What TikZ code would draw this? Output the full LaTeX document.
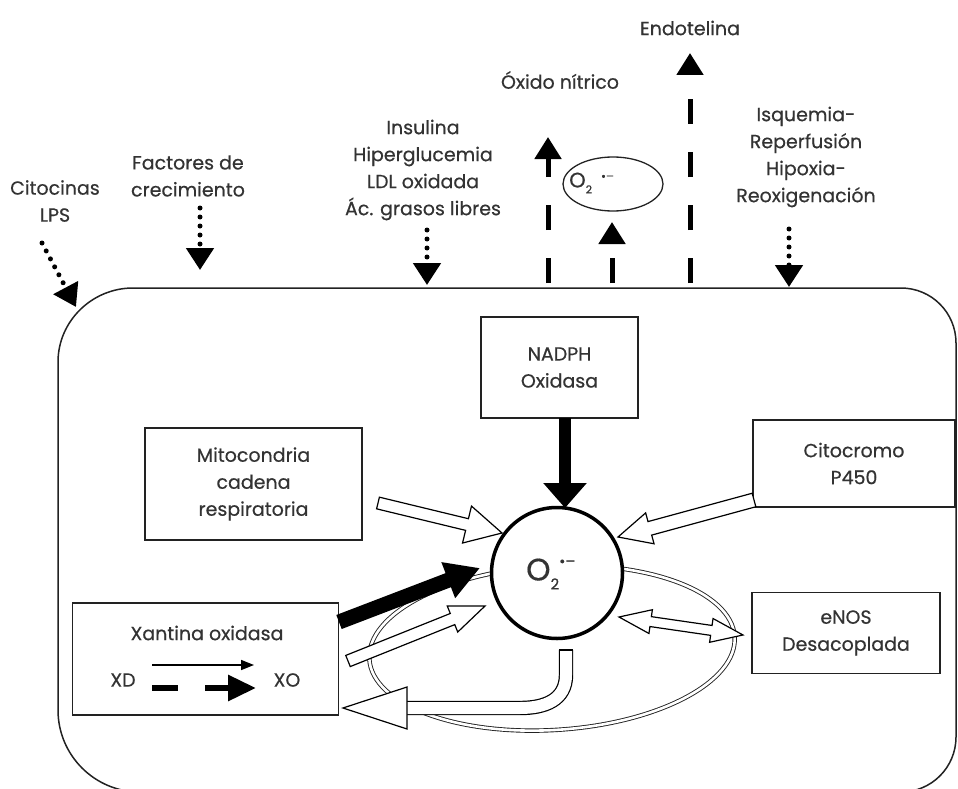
\documentclass[tikz,border=0pt]{standalone}
\usepackage{fontspec}
\setmainfont{Poppins}[FakeBold=0.5]
\usetikzlibrary{arrows.meta,calc,shapes.geometric}
\definecolor{txt}{HTML}{333333}
\definecolor{ln}{HTML}{222222}
\newcommand\oarrow[5]{%
  \path ($(#2)!#3!(#1)$) coordinate (oaP);
  \draw[oarr] ($(#1)!#4!90:(#2)$) -- ($(oaP)!#4!-90:(#1)$) -- ($(oaP)!#5!-90:(#1)$) -- (#2)
     -- ($(oaP)!#5!90:(#1)$) -- ($(oaP)!#4!90:(#1)$) -- ($(#1)!#4!-90:(#2)$) -- cycle;
}
\newcommand\dblarrow[5]{%
  \path ($(#1)!#3!(#2)$) coordinate (oaP);
  \path ($(#2)!#3!(#1)$) coordinate (oaQ);
  \draw[oarr] (#1) -- ($(oaP)!#5!90:(#2)$) -- ($(oaP)!#4!90:(#2)$) -- ($(oaQ)!#4!-90:(#1)$)
     -- ($(oaQ)!#5!-90:(#1)$) -- (#2) -- ($(oaQ)!#5!90:(#1)$) -- ($(oaQ)!#4!90:(#1)$)
     -- ($(oaP)!#4!-90:(#2)$) -- ($(oaP)!#5!-90:(#2)$) -- cycle;
}
\begin{document}
\begin{tikzpicture}[x=1pt,y=-1pt,
  lbl/.style={font=\fontsize{19}{27}\selectfont, text=txt, align=center, inner sep=0pt},
  boxn/.style={lbl, draw=ln, line width=1.3pt, fill=white},
  dotarr/.style={line width=5pt, line cap=round, dash pattern=on 0pt off 9pt, -{Triangle[width=27pt,length=22pt]}},
  dasharr/.style={line width=5pt, dash pattern=on 25pt off 28pt, -{Triangle[width=26pt,length=22pt]}},
  oarr/.style={draw=black, line width=1.2pt, fill=white, line join=miter},
]
\useasboundingbox (0,0) rectangle (958,789);
% cell
\draw[line width=1.5pt, draw=ln] (133,288) -- (901,288) .. controls (931.4,288) and (956,312.6) .. (956,343)
  -- (956,737) .. controls (956,767.4) and (931.4,792) .. (901,792)
  -- (140,792) .. controls (94.7,792) and (58,755.3) .. (58,710)
  -- (58,362) .. controls (58,321.1) and (92.1,288) .. (133,288) -- cycle;

% top labels
\node[lbl] (cito) at (55,201) {Citocinas\\LPS};
\node[lbl] (fact) at (188,176) {Factores de\\crecimiento};
\node[lbl] (insu) at (423,170) {Insulina\\Hiperglucemia\\LDL oxidada\\Ác. grasos libres};
\node[lbl] (oxni) at (560,80) {Óxido nítrico};
\node[lbl] (endo) at (690,28) {Endotelina};
\node[lbl] (isq) at (806,157) {Isquemia-\\Reperfusión\\Hipoxia-\\Reoxigenación};

% small superoxide ellipse
\node[draw=ln, line width=1.3pt, ellipse, minimum width=100pt, minimum height=54pt, inner sep=0pt] (osm) at (613,184) {};
\node[lbl, anchor=west] (osmt) at (569,183) {\fontsize{21}{21}\selectfont O\raisebox{-6pt}{\fontsize{11}{11}\selectfont 2}\hspace{9pt}\raisebox{7pt}{\fontsize{12}{12}\selectfont •–}};

% arrow coordinates top
\coordinate (c1) at (42,243);  \coordinate (c1t) at (76,307);
\coordinate (f1) at (200,208); \coordinate (f1t) at (200,270);
\coordinate (i1) at (427,230); \coordinate (i1t) at (427,285);
\coordinate (q1) at (789,229); \coordinate (q1t) at (789,287);
\coordinate (n1) at (548,283); \coordinate (n1t) at (548,137);
\coordinate (s1) at (612,283); \coordinate (s1t) at (612,222);
\coordinate (e1) at (690,283); \coordinate (e1t) at (690,53);

\draw[dotarr] (c1) -- (c1t);
\draw[dotarr] (f1) -- (f1t);
\draw[dotarr] (i1) -- (i1t);
\draw[dotarr] (q1) -- (q1t);
\draw[dasharr] (n1) -- (n1t);
\draw[dasharr] (s1) -- (s1t);
\draw[dasharr] (e1) -- (e1t);

% ring
\draw[double=white, double distance=2.6pt, line width=0.9pt, draw=ln, rotate around={3.5:(552,648)}] (552,648) ellipse [x radius=183, y radius=82];

% boxes
\node[boxn, minimum width=157pt, minimum height=101pt] (nadph) at (559.5,367.5) {NADPH\\Oxidasa};
\node[boxn, minimum width=217pt, minimum height=112pt] (mito) at (253.5,484) {Mitocondria\\cadena\\respiratoria};
\node[boxn, minimum width=202pt, minimum height=87pt] (cyto) at (854,463.5) {Citocromo\\P450};
\node[boxn, minimum width=188pt, minimum height=81pt] (enos) at (846,633) {eNOS\\Desacoplada};
\node[draw=ln, line width=1.3pt, fill=white, minimum width=266pt, minimum height=112pt, inner sep=0pt] (xant) at (205.5,659) {};
\node[lbl] (xantt) at (207,633) {Xantina oxidasa};
\node[lbl] (xd) at (123,680) {XD};
\node[lbl] (xo) at (287,680) {XO};
\coordinate (xa1) at (152,665); \coordinate (xa1t) at (254,665);
\coordinate (xb1) at (152,688); \coordinate (xb1t) at (256,688);
\draw[line width=1.6pt, -{Triangle[width=10pt,length=13pt]}] (xa1) -- (xa1t);
\draw[line width=6pt, dash pattern=on 26pt off 27pt, -{Triangle[width=25pt,length=28pt]}] (xb1) -- (xb1t);

% central circle
\node[circle, draw=black, line width=3.5pt, fill=white, minimum size=131pt, inner sep=0pt] (sup) at (557,573) {};
\node[lbl, anchor=west] (supt) at (526,574) {\fontsize{31}{31}\selectfont O\raisebox{-9pt}{\fontsize{15}{15}\selectfont 2}\raisebox{14pt}{\fontsize{15}{15}\selectfont •–}};

% black arrows
\coordinate (na1) at (565,418); \coordinate (na1t) at (565,508);
\draw[line width=12pt, -{Triangle[width=42pt,length=25pt]}] (na1) -- (na1t);
\coordinate (xk1) at (339,622); \coordinate (xk1t) at (480,568);
\draw[line width=15pt, -{Triangle[width=36pt,length=34pt]}] (xk1) -- (xk1t);

% open arrows
\coordinate (mo1) at (378,503); \coordinate (mo1t) at (502,533);
\oarrow{mo1}{mo1t}{36pt}{6pt}{19pt}
\coordinate (cy1) at (754,500); \coordinate (cy1t) at (618,537);
\oarrow{cy1}{cy1t}{33pt}{7pt}{16pt}
\coordinate (xo1) at (348,661); \coordinate (xo1t) at (485,606);
\oarrow{xo1}{xo1t}{35pt}{6pt}{14pt}
\coordinate (en1) at (619,617); \coordinate (en1t) at (743,635);
\dblarrow{en1}{en1t}{32pt}{5pt}{12pt}

% U-shaped open arrow
\coordinate (u1) at (566,650); \coordinate (u1t) at (343,708);
\draw[double=white, double distance=12pt, line width=1.2pt] (u1) -- (566,675) .. controls (566,700) and (545,708) .. (520,708) -- (407,708);
\draw[line width=1.2pt] ($(u1)+(-7.2,0)$) -- ($(u1)+(7.2,0)$);
\draw[oarr] (407,687) -- (u1t) -- (407,729) -- cycle;
\end{tikzpicture}
\end{document}
